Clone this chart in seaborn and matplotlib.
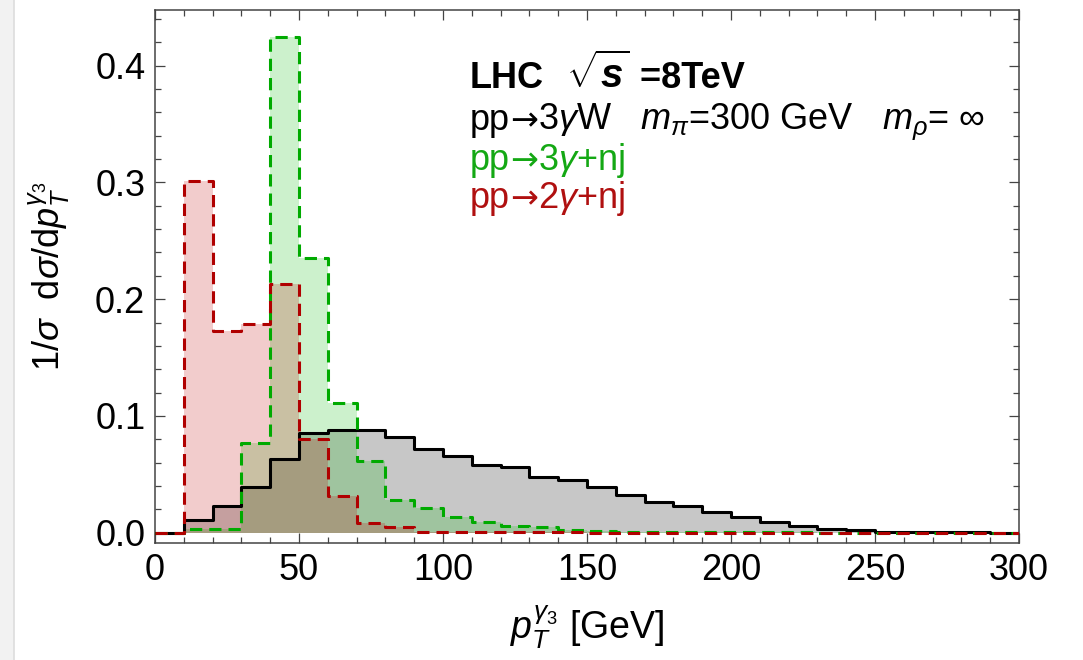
import numpy as np
import pandas as pd
import matplotlib
matplotlib.use("Agg")
import matplotlib.pyplot as plt
import seaborn as sns
from matplotlib.ticker import MultipleLocator, FormatStrFormatter
from matplotlib.patches import Rectangle
from matplotlib.lines import Line2D

# ---------------- data (normalised distributions, 10 GeV bins from 0 to 300 GeV) ----------------
bin_width = 10
pt_low_edges = list(range(0, 300, 10))

signal_3gW = [0.000, 0.011, 0.023, 0.039, 0.063, 0.085, 0.088, 0.088, 0.082, 0.072,
              0.066, 0.058, 0.056, 0.048, 0.045, 0.039, 0.032, 0.026, 0.023, 0.018,
              0.013, 0.009, 0.006, 0.0035, 0.002, 0.001, 0.0005, 0.0003, 0.0002, 0.0001]

bkg_3g_nj = [0.000, 0.003, 0.003, 0.077, 0.425, 0.235, 0.111, 0.061, 0.028, 0.021,
             0.013, 0.009, 0.0055, 0.005, 0.0026, 0.0015, 0.001, 0.0008, 0.0005, 0.0004,
             0.0003, 0.0002, 0.0002, 0.0001, 0.0001, 0.0001, 0.0, 0.0, 0.0, 0.0]

bkg_2g_nj = [0.000, 0.301, 0.173, 0.179, 0.213, 0.080, 0.0315, 0.008, 0.005, 0.001,
             0.0005, 0.0004, 0.0003, 0.0002, 0.0002, 0.0001, 0.0001, 0.0001, 0.0, 0.0,
             0.0, 0.0, 0.0, 0.0, 0.0, 0.0, 0.0, 0.0, 0.0, 0.0]

series_names = ["pp→3γW", "pp→3γ+nj", "pp→2γ+nj"]
series_values = [signal_3gW, bkg_3g_nj, bkg_2g_nj]

# ---------------- style ----------------
sns.set_style("ticks")
plt.rcParams["font.family"] = ["Liberation Sans", "DejaVu Sans"]
plt.rcParams["mathtext.fontset"] = "custom"
plt.rcParams["mathtext.rm"] = "Liberation Sans"
plt.rcParams["mathtext.it"] = "Liberation Sans:italic"
plt.rcParams["mathtext.bf"] = "Liberation Sans:bold"
plt.rcParams["mathtext.bfit"] = "Liberation Sans:bold:italic"
plt.rcParams["text.color"] = "black"
plt.rcParams["axes.labelcolor"] = "black"
plt.rcParams["xtick.labelcolor"] = "black"
plt.rcParams["ytick.labelcolor"] = "black"

line_colors = ["black", "#00aa00", "#b00000"]
fill_colors = ["black", "#00bb00", "#c00000"]
fill_alphas = [0.22, 0.2, 0.2]
line_styles = ["-", "--", "--"]

edges = [float(e) for e in pt_low_edges + [pt_low_edges[-1] + bin_width]]
centers = [e + bin_width / 2 for e in pt_low_edges]

rows = []
for name, vals in zip(series_names, series_values):
    for c, v in zip(centers, vals):
        rows.append({"sample": name, "pt": c, "w": v})
df = pd.DataFrame(rows)

W, H = 1083, 660
fig = plt.figure(figsize=(W / 100, H / 100), dpi=100)
ax = fig.add_axes([155 / W, 1 - 543.3 / H, (1019 - 155) / W, (543.3 - 10) / H])

# fills
for i, name in enumerate(series_names):
    sub = df[df["sample"] == name]
    sns.histplot(data=sub, x="pt", weights="w", bins=edges, element="step", fill=True,
                 color=fill_colors[i], alpha=fill_alphas[i], linewidth=0, ax=ax, zorder=1 + i)
# outlines
for i, name in enumerate(series_names):
    sub = df[df["sample"] == name]
    kws = dict(color=line_colors[i], linewidth=2.2, linestyle=line_styles[i], zorder=5 + i)
    if line_styles[i] == "--":
        kws["dashes"] = (4.0, 2.3)
    sns.histplot(data=sub, x="pt", weights="w", bins=edges, element="step", fill=False,
                 ax=ax, **kws)

ax.set_xlim(0, 300)
ax.set_ylim(-0.0091, 0.4477)

ax.xaxis.set_major_locator(MultipleLocator(50))
ax.xaxis.set_minor_locator(MultipleLocator(10))
ax.yaxis.set_major_locator(MultipleLocator(0.1))
ax.yaxis.set_minor_locator(MultipleLocator(0.02))
ax.yaxis.set_major_formatter(FormatStrFormatter("%.1f"))

ax.tick_params(which="both", direction="in", top=True, right=True, color="#444444",
               width=0.9, labelsize=26, pad=7, labelcolor="black")
ax.tick_params(which="major", length=7.5)
ax.tick_params(which="minor", length=4)
for s in ax.spines.values():
    s.set_color("#444444")
    s.set_linewidth(1.1)

ax.set_xlabel(r"$p_T^{\gamma_3}$ [GeV]", fontsize=27, labelpad=11)
ax.set_ylabel(r"$1/\sigma$  d$\sigma$/d$p_T^{\gamma_3}$", fontsize=26, labelpad=16)

# annotation block, laid out piece by piece
renderer = fig.canvas.get_renderer()


def draw_pieces(x_px, y_px, pieces):
    for txt, kw in pieces:
        t = fig.text(x_px / W, 1 - y_px / H, txt, va="baseline", ha="left", **kw)
        bb = t.get_window_extent(renderer)
        x_px += bb.width


arrow_kw = dict(fontsize=24, family="DejaVu Sans")
draw_pieces(470, 88, [
    ("LHC", dict(fontsize=26, fontweight="bold")),
    (r"  $\sqrt{\mathbfit{s}}$", dict(fontsize=29, fontweight="bold")),
    (" =8TeV", dict(fontsize=26, fontweight="bold")),
])
draw_pieces(470, 130, [
    ("pp", dict(fontsize=26, color="black")),
    ("→", dict(arrow_kw, color="black")),
    (r"3$\gamma$W   $m_\pi$=300 GeV   $m_\rho$= ∞", dict(fontsize=26, color="black")),
])
draw_pieces(470, 170, [
    ("pp", dict(fontsize=26, color="#14a814")),
    ("→", dict(arrow_kw, color="#14a814")),
    (r"3$\gamma$+nj", dict(fontsize=26, color="#14a814")),
])
draw_pieces(470, 208, [
    ("pp", dict(fontsize=26, color="#b01010")),
    ("→", dict(arrow_kw, color="#b01010")),
    (r"2$\gamma$+nj", dict(fontsize=26, color="#b01010")),
])

# screenshot border strip at left
fig.patches.append(Rectangle((0, 0), 14 / W, 1, transform=fig.transFigure,
                             facecolor="#f2f2f2", edgecolor="none", zorder=0))
fig.lines.append(Line2D([14 / W, 14 / W], [0, 1], transform=fig.transFigure,
                        color="#dddddd", linewidth=1.2))

fig.savefig("out.png", dpi=100)
